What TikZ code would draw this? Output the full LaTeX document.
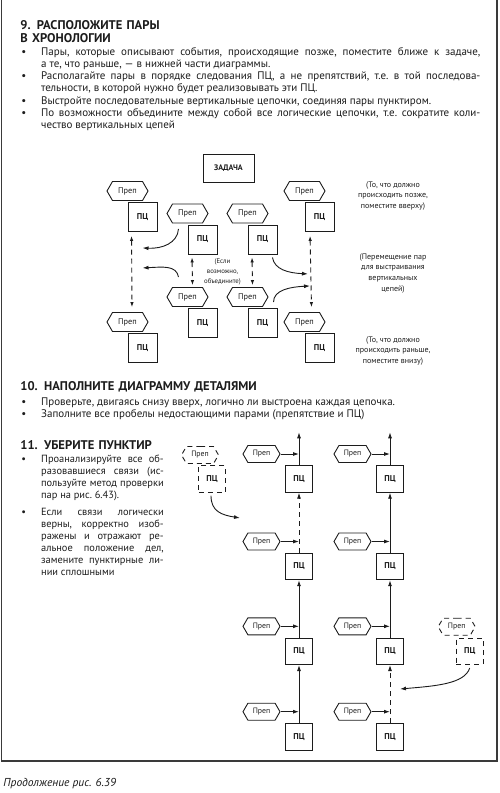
\documentclass[tikz,border=0pt]{standalone}
\usepackage{fontspec}
\setmainfont{PT Sans}
\usetikzlibrary{arrows.meta, positioning, calc, shapes.symbols}
\definecolor{inkblack}{HTML}{1C1C1C}
\definecolor{framegray}{HTML}{3A3A3A}
\newcommand{\bodysize}{\fontsize{11}{12.3}\selectfont\frenchspacing}
\newcommand{\narrowsize}{\fontsize{10.4}{12.1}\selectfont\frenchspacing}
\newcommand{\headsize}{\fontsize{12.6}{12.7}\selectfont\bfseries}
\newcommand{\bitem}{\noindent\llap{\makebox[19.7pt][l]{\textbullet}}}

\begin{document}
\begin{tikzpicture}[x=1pt, y=-1pt, line width=0.9pt, inkblack,
  obst/.style={draw, signal, signal to=east and west, signal pointer angle=120,
    minimum width=41pt, minimum height=19pt, inner sep=0pt, font=\fontsize{8.3}{8.3}\selectfont},
  obsts/.style={obst, minimum width=37pt, minimum height=17pt, font=\fontsize{7.8}{7.8}\selectfont},
  iobj/.style={draw, minimum size=29pt, inner sep=0pt, font=\fontsize{8.5}{8.5}\selectfont\bfseries},
  iobjs/.style={iobj, minimum size=26.5pt},
  note/.style={align=center, inner sep=0pt, font=\fontsize{8}{10.7}\selectfont},
  para/.style={anchor=base west, inner sep=0pt, align=justify, font=\bodysize},
  head/.style={anchor=base west, inner sep=0pt, text width=300pt, align=left, font=\headsize},
  arr/.style={-{Latex[length=6pt,width=4pt]}},
  dsh/.style={dash pattern=on 5pt off 4pt},
  dbl/.style={{Latex[length=5pt,width=3.5pt]}-{Latex[length=5pt,width=3.5pt]}, dsh},
]
  \useasboundingbox (0,0) rectangle (500,793);
  % frame (continues from the previous page)
  \draw[framegray, line width=1.2pt] (1.5,-5) -- (1.5,761) -- (497,761) -- (497,-5);

  % step 9 text
  \node[head] (h9) at (20,29.3) {9. РАСПОЛОЖИТЕ ПАРЫ\\В ХРОНОЛОГИИ};
  \node[para, text width=459pt] (t9) at (21,55) {\leftskip=19.7pt
    \bitem Пары, которые описывают события, происходящие позже, поместите ближе к задаче,\linebreak а те, что раньше, — в нижней части диаграммы.\par
    \bitem Располагайте пары в порядке следования ПЦ, а не препятствий, т.е. в той последова-\linebreak тельности, в которой нужно будет реализовывать эти ПЦ.\par
    \bitem Выстройте последовательные вертикальные цепочки, соединяя пары пунктиром.\par
    \bitem По возможности объедините между собой все логические цепочки, т.е. сократите коли-\linebreak чество вертикальных цепей\par};

  % step 9 diagram
  \node[draw, minimum width=51pt, minimum height=28pt, font=\fontsize{8}{8}\selectfont\bfseries] (task) at (228.5,168) {ЗАДАЧА};
  \foreach \n/\x/\y in {A/127.5/191, B/187.5/213.5, C/247.5/213.5, D/304.5/191,
                        E/187.5/297, F/247.5/297, G/127.5/322, H/304.5/322}{
    \node[obst] (h\n) at (\x,\y) {Преп};
    \node[iobj] (s\n) at ($(h\n)+(15,26)$) {ПЦ};
  }
  \draw[dbl] ($(sA.south west)+(4,4)$) -- ($(hG.north)+(4.5,-5)$);
  \draw[dbl] ($(sD.south west)+(5.5,4)$) -- ($(hH.north)+(7,-5)$);
  \draw[dbl] ($(sB.south west)+(4.5,3)$) -- ($(hE.north)+(5,-2)$);
  \draw[dbl] ($(sC.south west)+(4.5,3)$) -- ($(hF.north)+(5,-2)$);
  \node[note, font=\fontsize{6.8}{10}\selectfont] (merge) at (222.5,271.7) {(Если\\возможно,\\объедините)};

  % moving pairs
  \coordinate (m1) at ($(sA.south)+(0,16)$);
  \coordinate (m2) at ($(sA.south)+(0,36)$);
  \coordinate (m3) at ($(sD.south)+(-11.5,42)$);
  \coordinate (m4) at ($(sD.south)+(-9.5,54)$);
  \draw[arr] ($(hB.south)+(-9,5.5)$) .. controls +(-1,14) and +(20,1) .. (m1);
  \draw[arr] ($(hE.north)+(-9,-10)$) .. controls +(-2,-12) and +(20,-1) .. (m2);
  \draw[arr] ($(sC.south east)+(-5,3)$) .. controls +(2,12) and +(-20,-1) .. (m3);
  \draw[arr] ($(hF.east)+(5,5)$) .. controls +(0,-12) and +(-20,1) .. (m4);

  \node[note] (later) at (393,196) {(То, что должно\\происходить позже,\\поместите вверху)};
  \node[note] (move) at (393,273.3) {(Перемещение пар\\для выстраивания\\вертикальных\\цепей)};
  \node[note] (earlier) at (393,351) {(То, что должно\\происходить раньше,\\поместите внизу)};

  % step 10 text
  \node[head] (h10) at (20,390.7) {10. НАПОЛНИТЕ ДИАГРАММУ ДЕТАЛЯМИ};
  \node[para, text width=459pt] (t10) at (21,405) {\leftskip=19.7pt
    \bitem Проверьте, двигаясь снизу вверх, логично ли выстроена каждая цепочка.\par
    \bitem Заполните все пробелы недостающими парами (препятствие и ПЦ)\par};

  % step 11 text
  \node[head] (h11) at (20,449.5) {11. УБЕРИТЕ ПУНКТИР};
  \node[para, text width=142.3pt, font=\narrowsize] (t11) at (21,462.5) {\leftskip=19.7pt
    \bitem Проанализируйте все об-\linebreak разовавшиеся связи (ис-\linebreak пользуйте метод проверки\linebreak пар на рис. 6.43).\par\vspace{4.5pt}
    \bitem Если связи логически\linebreak верны, корректно изоб-\linebreak ражены и отражают ре-\linebreak альное положение дел,\linebreak замените пунктирные ли-\linebreak нии сплошными\par};

  % step 11 chains
  \foreach \c/\x in {l/299, r/390}{
    \foreach \r/\y in {1/479, 2/566.5, 3/651.3, 4/736.7}{
      \node[iobjs] (q\c\r) at (\x,\y) {ПЦ};
      \node[obsts] (o\c\r) at ($(q\c\r)+(-37.5,-25)$) {Преп};
      \draw[arr] (o\c\r.east) -- (o\c\r.east -| q\c\r.center);
    }
  }
  \coordinate (topl) at ($(ql1.north)+(0,-33)$);
  \coordinate (topr) at ($(qr1.north)+(0,-33)$);
  \draw[arr] (ql1.north) -- (topl);
  \draw[arr, dsh] (ql2.north) -- (ql1.south);
  \draw[arr] (ql3.north) -- (ql2.south);
  \draw[arr] (ql4.north) -- (ql3.south);
  \draw[arr] (qr1.north) -- (topr);
  \draw[arr] (qr2.north) -- (qr1.south);
  \draw[arr] (qr3.north) -- (qr2.south);
  \draw[arr, dsh] (qr4.north) -- (qr3.south);

  % pairs still to be placed
  \node[iobjs, dsh] (qa) at (212,479) {ПЦ};
  \node[obsts, dsh] (oa) at (200,455) {Преп};
  \node[iobjs, dsh] (qb) at (469.7,651.3) {ПЦ};
  \node[obsts, dsh] (ob) at (456.7,626.7) {Преп};
  \coordinate (ta) at (240,518);
  \coordinate (tb) at (400,689);
  \draw[arr] ($(qa.south)+(-1,3)$) .. controls +(0,16) and +(-18,-3) .. (ta);
  \draw[arr] ($(qb.south)+(0,3)$) .. controls +(-5,16) and +(35,-3) .. (tb);

  \node[anchor=base west, inner sep=0pt, font=\fontsize{11.5}{12}\selectfont\itshape] (cap) at (3,786) {Продолжение рис. 6.39};
\end{tikzpicture}
\end{document}
